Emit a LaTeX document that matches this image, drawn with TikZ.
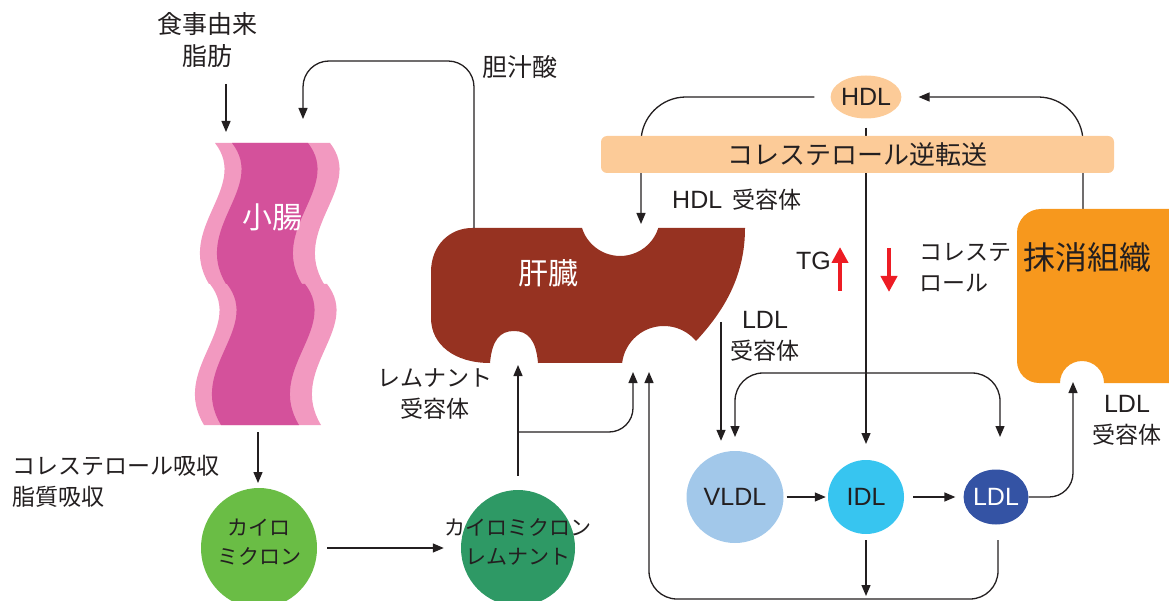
\documentclass[tikz,border=0pt]{standalone}
\usepackage{fontspec}
\setmainfont{Liberation Sans}
\newfontfamily\jp{Noto Sans CJK JP}
\usetikzlibrary{arrows.meta,shapes.geometric,backgrounds}

\definecolor{ink}{RGB}{35,31,32}
\definecolor{gutpale}{RGB}{242,153,192}
\definecolor{gutdeep}{RGB}{212,81,155}
\definecolor{liverbrown}{RGB}{150,50,33}
\definecolor{tissueorange}{RGB}{247,152,29}
\definecolor{peach}{RGB}{252,203,152}
\definecolor{chylogreen}{RGB}{106,189,69}
\definecolor{remnantgreen}{RGB}{46,153,101}
\definecolor{vldlblue}{RGB}{162,200,234}
\definecolor{idlblue}{RGB}{55,197,240}
\definecolor{ldlblue}{RGB}{52,83,164}
\definecolor{signalred}{RGB}{237,28,36}

% latin part of a label
\newcommand\lattxt[1]{{\normalfont\fontsize{25}{31}\selectfont #1}}
% one wave of the small intestine: left x, right x, top y, colour
\newcommand\gutwave[4]{%
  \fill[#4] (#1,#3) .. controls +(35,45) and +(-34,-56) .. (#1-6,#3+141)
    -- (#2-6,#3+141) .. controls +(-34,-56) and +(35,45) .. (#2,#3) -- cycle;}

\tikzset{
  wire/.style={draw=ink, line width=1.3pt},
  arr/.style={wire, -{Triangle[length=11pt,width=9pt]}},
  lbl/.style={text=ink, inner sep=0pt, align=center, font=\jp\fontsize{23}{31}\selectfont},
  organ/.style={text=white, inner sep=0pt, font=\jp\fontsize{30}{36}\selectfont},
  ball/.style={ellipse, inner sep=0pt, font=\fontsize{25}{30}\selectfont},
  bigarrow/.style={signalred, line width=4.5pt, -{Triangle[length=16pt,width=16pt]}},
}

\begin{document}
\begin{tikzpicture}[x=1pt, y=-1pt]
  \useasboundingbox (0,0) rectangle (1169,601);

  % small intestine, two waves stacked
  \gutwave{215}{330}{143}{gutpale}
  \gutwave{210}{327}{284}{gutpale}
  \gutwave{232}{308}{143}{gutdeep}
  \gutwave{227}{305}{284}{gutdeep}
  \node[organ] (gut) at (272,217) {小腸};

  % liver with its receptor notches
  \fill[liverbrown] (472,228) -- (582,228) arc (162.5:17.5:40) -- (745,228)
    .. controls (745,275) and (725,310) .. (696,341)
    arc (-40:-173:42) -- (538,363)
    .. controls (536,340) and (528,331) .. (514,331)
    .. controls (500,331) and (492,340) .. (490,363)
    .. controls (455,363) and (431,345) .. (431,318)
    -- (431,272) .. controls (431,245) and (450,228) .. (472,228) -- cycle;
  \node[organ] (liver) at (548,273) {肝臓};

  % peripheral tissue, LDL receptor notch at the bottom
  \fill[tissueorange] (1170,209) -- (1041,209) arc (270:180:24) -- (1017,361)
    arc (180:90:22) -- (1060,383) arc (180:360:22) -- (1170,383) -- cycle;
  \node[lbl, font=\jp\fontsize{32}{36}\selectfont] (tissue) at (1087,257) {抹消組織};

  % reverse transport band and HDL
  \node[lbl, fill=peach, rounded corners=6pt, minimum width=513pt, minimum height=37pt,
        font=\jp\fontsize{26}{30}\selectfont] (rct) at (857.5,154.5) {コレステロール逆転送};
  \node[ball, fill=peach, text=ink, minimum width=47pt, minimum height=43pt] (hdl) at (866,97) {HDL};

  % chylomicron and its remnant
  \node[ellipse, fill=chylogreen, minimum width=116pt, minimum height=120pt] (chylo) at (259,548) {};
  \node[lbl, font=\jp\fontsize{21}{29}\selectfont] (chylotxt) at (259,542) {カイロ\\ミクロン};
  \node[ellipse, fill=remnantgreen, minimum width=114pt, minimum height=116pt] (remnant) at (518,548) {};
  \node[lbl, font=\jp\fontsize{21}{29}\selectfont] (remnanttxt) at (518,542) {カイロミクロン\\レムナント};

  % lipoproteins made by the liver
  \foreach \n/\x/\w/\h/\c/\t/\s in {vldl/735/97/92/vldlblue/ink/VLDL,
      idl/866/76/74/idlblue/ink/IDL, ldl/996/58/55/ldlblue/white/LDL}
    \node[ball, fill=\c, text=\t, minimum width=\w pt, minimum height=\h pt] (\n) at (\x,497) {\s};

  % labels
  \node[lbl, font=\jp\fontsize{25}{32}\selectfont] (fat) at (207,40) {食事由来\\脂肪};
  \node[lbl, font=\jp\fontsize{25}{32}\selectfont] (bile) at (520,67) {胆汁酸};
  \node[lbl, anchor=west, align=left] (absorb) at (12,481) {コレステロール吸収\\脂質吸収};
  \node[lbl] (remrec) at (435,394) {レムナント\\受容体};
  \node[lbl, anchor=west] (hdlrec) at (672,200) {\lattxt{HDL}\hspace{10pt}受容体};
  \node[lbl] (ldlrec) at (765,336) {\lattxt{LDL}\\受容体};
  \node[lbl] (ldlrec2) at (1127,420) {\lattxt{LDL}\\受容体};
  \node[lbl, anchor=east] (tg) at (831,261) {\lattxt{TG}};
  \node[lbl, anchor=west, align=left] (chol) at (919,268) {コレステ\\ロール};

  % end points of the connectors
  \coordinate (fatout) at (226,84);
  \coordinate (gutin) at (226,132);
  \coordinate (bileout) at (474,228);
  \coordinate (bilein) at (303,119);
  \coordinate (gutout) at (258,432);
  \coordinate (chyloin) at (258,483);
  \coordinate (remin) at (518,365);
  \coordinate (split) at (518,432);
  \coordinate (liverin) at (633,372);
  \coordinate (liverin2) at (649,372);
  \coordinate (ldlout) at (998,540);
  \coordinate (tissuein) at (1073,382);

  % intestine side
  \draw[arr] (fatout) -- (gutin);
  \draw[arr, rounded corners=26pt] (bileout) -- (474,61) -- (303,61) -- (bilein);
  \draw[arr] (gutout) -- (chyloin);
  \draw[arr] ([xshift=10pt]chylo.east) -- ([xshift=-17pt]remnant.west);
  \draw[arr] ([yshift=14pt]remnant.north) -- (remin);
  \draw[arr, rounded corners=24pt] (split) -| (liverin);

  % liver to lipoproteins and back
  \draw[arr] (721,322) -- ([yshift=10pt]vldl.north -| 721,0);
  \draw[wire, {Triangle[length=11pt,width=9pt]}-{Triangle[length=11pt,width=9pt]}, rounded corners=28pt]
    (735,437) -- (735,373) -- (1000,373) -- (1000,437);
  \draw[arr] ([xshift=3pt]vldl.east) -- ([xshift=-2pt]idl.west);
  \draw[arr] ([xshift=9pt]idl.east) -- ([xshift=-8pt]ldl.west);
  \draw[arr] ([yshift=-6pt]idl.south) -- (866,596);
  \draw[arr, rounded corners=28pt] (ldlout) -- (998,599) -- (649,599) -- (liverin2);
  \draw[arr, rounded corners=24pt] (ldl.east) -| (tissuein);

  % HDL lines run under the band
  \begin{scope}[on background layer]
    \draw[arr] ([yshift=-9pt]hdl.south) -- (866,444);
    \draw[arr, rounded corners=45pt] ([xshift=-16pt]hdl.west) -- (641,97) -- (641,224);
    \draw[arr, rounded corners=45pt] (1083,209) -- (1083,97) -- ([xshift=17pt]hdl.east);
  \end{scope}

  % TG up, cholesterol down
  \draw[bigarrow] (840,291) -- (840,247);
  \draw[bigarrow] (889,248) -- (889,292);
\end{tikzpicture}
\end{document}
